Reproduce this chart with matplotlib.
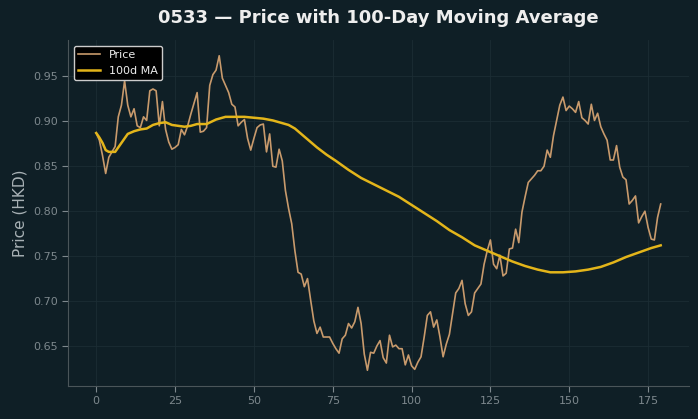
import matplotlib
matplotlib.use("Agg")
import matplotlib.pyplot as plt
import numpy as np

ticker = "0533"

# daily closing price (days 0..179)
price = [
    0.887, 0.879, 0.862, 0.842, 0.860, 0.866, 0.872, 0.905, 0.918, 0.945,
    0.918, 0.905, 0.914, 0.895, 0.893, 0.905, 0.901, 0.934, 0.936, 0.934,
    0.895, 0.922, 0.891, 0.877, 0.869, 0.871, 0.874, 0.891, 0.885, 0.895,
    0.908, 0.920, 0.932, 0.888, 0.889, 0.893, 0.940, 0.952, 0.957, 0.973,
    0.948, 0.940, 0.932, 0.919, 0.916, 0.895, 0.899, 0.902, 0.881, 0.868,
    0.881, 0.893, 0.896, 0.897, 0.866, 0.886, 0.850, 0.849, 0.869, 0.856,
    0.823, 0.803, 0.786, 0.756, 0.732, 0.730, 0.716, 0.725, 0.701, 0.678,
    0.664, 0.671, 0.660, 0.660, 0.660, 0.653, 0.647, 0.642, 0.658, 0.662,
    0.675, 0.670, 0.677, 0.693, 0.675, 0.641, 0.623, 0.643, 0.642, 0.650,
    0.656, 0.637, 0.631, 0.662, 0.649, 0.651, 0.647, 0.647, 0.629, 0.640,
    0.628, 0.624, 0.632, 0.638, 0.660, 0.684, 0.688, 0.671, 0.679, 0.660,
    0.638, 0.652, 0.663, 0.686, 0.709, 0.714, 0.723, 0.697, 0.684, 0.688,
    0.709, 0.714, 0.719, 0.741, 0.756, 0.768, 0.741, 0.736, 0.751, 0.728,
    0.731, 0.758, 0.759, 0.780, 0.765, 0.799, 0.816, 0.832, 0.836, 0.840,
    0.845, 0.845, 0.850, 0.868, 0.860, 0.884, 0.901, 0.918, 0.927, 0.912,
    0.917, 0.914, 0.910, 0.922, 0.904, 0.901, 0.897, 0.919, 0.901, 0.909,
    0.894, 0.886, 0.879, 0.857, 0.857, 0.873, 0.849, 0.838, 0.835, 0.808,
    0.812, 0.817, 0.787, 0.794, 0.800, 0.782, 0.769, 0.768, 0.793, 0.808,
]
days = list(range(len(price)))

# 100-day moving average at selected days
ma_days = [0, 1, 2, 3, 4, 6, 8, 10, 12, 14, 16, 18, 20, 22, 24, 26, 28, 30,
           32, 35, 38, 41, 44, 47, 50, 53, 56, 59, 61, 63, 65, 67, 70, 73,
           76, 80, 84, 88, 92, 96, 100, 104, 108, 112, 116, 120, 124, 128,
           132, 136, 140, 144, 148, 152, 156, 160, 164, 168, 172, 176, 179]
ma_values = [0.887, 0.882, 0.876, 0.868, 0.866, 0.866, 0.876, 0.886, 0.889,
             0.891, 0.892, 0.896, 0.898, 0.899, 0.896, 0.895, 0.894, 0.895,
             0.897, 0.897, 0.902, 0.905, 0.905, 0.905, 0.904, 0.903, 0.901,
             0.898, 0.896, 0.892, 0.886, 0.880, 0.871, 0.863, 0.856, 0.846,
             0.837, 0.830, 0.823, 0.816, 0.807, 0.798, 0.789, 0.779, 0.771,
             0.762, 0.756, 0.750, 0.744, 0.739, 0.735, 0.732, 0.732, 0.733,
             0.735, 0.738, 0.743, 0.749, 0.754, 0.759, 0.762]

BG = "#0f1f26"
PRICE_COLOR = "#c89a6c"
MA_COLOR = "#e3b51a"
TICK_COLOR = "#7d888d"

fig = plt.figure(figsize=(6.98, 4.19), dpi=100, facecolor=BG)
ax = fig.add_axes([0.0974, 0.0788, 0.8896, 0.8257], facecolor=BG)

ax.plot(days, price, color=PRICE_COLOR, linewidth=1.2, label="Price")
ax.plot(ma_days, ma_values, color=MA_COLOR, linewidth=1.8, label="100d MA")

ax.set_title(f"{ticker} — Price with 100-Day Moving Average",
             color="#eeeeee", fontsize=13, fontweight="bold", pad=12)
ax.set_ylabel("Price (HKD)", color="#a9b2b6", fontsize=11)
ax.set_xticks([0, 25, 50, 75, 100, 125, 150, 175])
ax.set_yticks([0.65, 0.70, 0.75, 0.80, 0.85, 0.90, 0.95])
ax.tick_params(colors=TICK_COLOR, labelsize=8, length=4)
for side in ["top", "right"]:
    ax.spines[side].set_visible(False)
for side in ["left", "bottom"]:
    ax.spines[side].set_color("#4a5559")
ax.grid(color="#1c2d34", linewidth=0.6)
ax.set_axisbelow(True)

leg = ax.legend(loc="upper left", fontsize=8, facecolor="black",
                edgecolor="#cccccc", labelcolor="#eeeeee", framealpha=1.0)

fig.savefig("out.png", dpi=100, facecolor=BG)
